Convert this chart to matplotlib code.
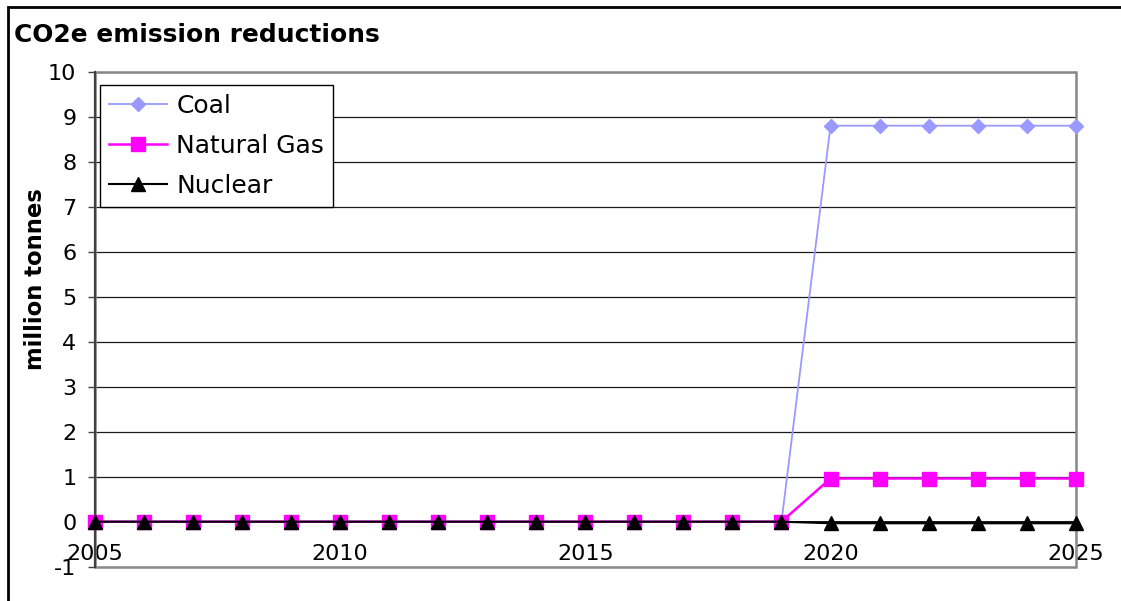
import matplotlib
matplotlib.use("Agg")
import matplotlib.pyplot as plt
from matplotlib.patches import Rectangle

# Series data
years = list(range(2005, 2026))
coal = [0.0] * 15 + [8.8] * 6
natural_gas = [0.0] * 15 + [0.96] * 6
nuclear = [0.0] * 15 + [-0.035] * 6

y_ticks = list(range(-1, 11))
x_ticks = [2005, 2010, 2015, 2020, 2025]
series_labels = ["Coal", "Natural Gas", "Nuclear"]

W, H = 1121, 601
plt.rcParams["font.family"] = ["DejaVu Sans"]
plt.rcParams["axes.unicode_minus"] = False

fig = plt.figure(figsize=(W / 100, H / 100), dpi=100)
fig.patch.set_facecolor("white")


def fx(px):
    return px / W


def fy(py):
    return 1 - py / H


ax = fig.add_axes([fx(95), fy(566.7), fx(1075.7) - fx(95), fy(71.7) - fy(566.7)])
ax.set_facecolor("white")

ax.plot(years, coal, color="#9999FF", lw=1.3, marker="D", ms=7.5,
        mfc="#9999FF", mec="#9999FF", clip_on=False, zorder=4, label=series_labels[0])
ax.plot(years, natural_gas, color="#FF00FF", lw=1.8, marker="s", ms=10,
        mfc="#FF00FF", mec="#FF00FF", clip_on=False, zorder=5, label=series_labels[1])
ax.plot(years, nuclear, color="black", lw=1.5, marker="^", ms=10.5,
        mfc="black", mec="black", clip_on=False, zorder=6, label=series_labels[2])

ax.set_xlim(2005, 2025)
ax.set_ylim(-1, 10)

# horizontal gridlines
for v in y_ticks[2:]:
    ax.axhline(v, color="#1a1a1a", lw=0.9, zorder=1)

# spines: left axis, category axis crossing at zero, grey frame elsewhere
for s in ["top", "right"]:
    ax.spines[s].set_visible(False)
ax.spines["left"].set_color("#404040")
ax.spines["left"].set_linewidth(1.6)
ax.spines["left"].set_zorder(3)
ax.spines["bottom"].set_position(("data", 0))
ax.spines["bottom"].set_color("black")
ax.spines["bottom"].set_linewidth(1.3)
ax.add_patch(Rectangle((0, 0), 1, 1, transform=ax.transAxes, fill=False,
                       ec="#888888", lw=1.8, zorder=2, clip_on=False))

ax.set_yticks(y_ticks)
ax.set_xticks(x_ticks)
ax.tick_params(axis="y", length=5, width=1.0, color="#404040", pad=8.5, labelsize=16)
ax.tick_params(axis="x", length=0, pad=16, labelsize=16)

leg = ax.legend(loc="upper left", bbox_to_anchor=(fx(100), fy(85)),
                bbox_transform=fig.transFigure, borderaxespad=0, fontsize=18,
                fancybox=False, framealpha=1, edgecolor="black",
                handlelength=2.3, handletextpad=0.4, labelspacing=0.64,
                borderpad=0.36)
leg.get_frame().set_linewidth(1.0)
leg.set_zorder(10)

fig.text(fx(14), fy(42), "CO2e emission reductions", fontsize=17.9,
         fontweight="bold", ha="left", va="baseline")
fig.text(fx(42), fy(279), "million tonnes", fontsize=16.4, fontweight="bold",
         rotation=90, rotation_mode="anchor", ha="center", va="baseline")

# outer chart border
fig.patches.append(Rectangle((fx(8), fy(640)), fx(1200) - fx(8), fy(6.5) - fy(640),
                             transform=fig.transFigure, fill=False, ec="black",
                             lw=2.0, figure=fig))

fig.savefig("out.png", dpi=100)
